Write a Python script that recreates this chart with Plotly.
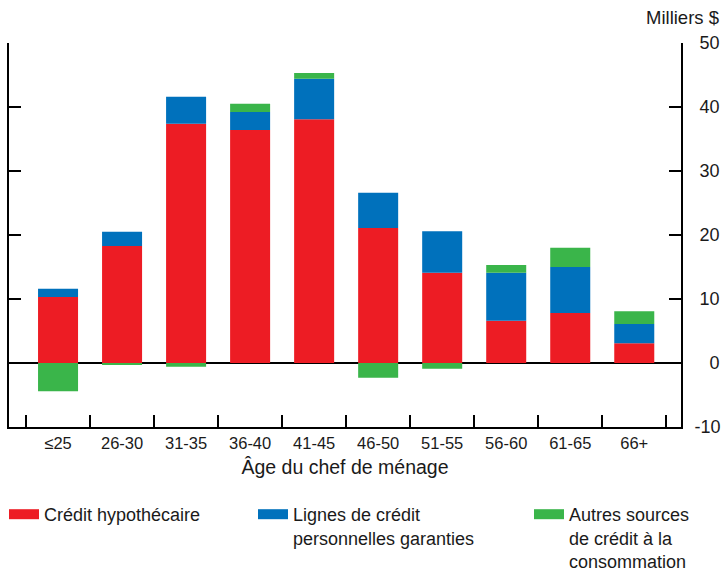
import plotly.graph_objects as go

categories = ["≤25", "26-30", "31-35", "36-40", "41-45", "46-50", "51-55", "56-60", "61-65", "66+"]
mortgage = [10.3, 18.3, 37.4, 36.4, 38.1, 21.1, 14.1, 6.6, 7.8, 3.1]
heloc = [1.3, 2.2, 4.2, 2.8, 6.3, 5.5, 6.5, 7.5, 7.2, 3.0]
other = [-4.4, -0.2, -0.6, 1.3, 0.9, -2.3, -0.9, 1.2, 3.0, 2.0]

y_tickvals = [-10, 0, 10, 20, 30, 40, 50]
# padded with figure/punctuation spaces so labels line up on the right like the original
y_ticktext = ["-10", "\u2007\u20080", "\u200810", "\u200820", "\u200830", "\u200840", "\u200850"]

names = ["Crédit hypothécaire", "Lignes de crédit<br>personnelles garanties",
         "Autres sources<br>de crédit à la<br>consommation"]
colors = ["#ED1C24", "#0071BC", "#3AB54A"]
series = [mortgage, heloc, other]
legend_ids = ["legend", "legend2", "legend3"]

W, H = 722, 573
PL, PT, PR, PB = 9, 43, 681, 427
ML, MT, MR, MB = PL, PT, W - PR, H - PB
PW, PH = PR - PL, PB - PT
legend_x_win = [4, 253, 529]
legend_top_win = 496

FONT = "Liberation Sans"
TXT = "#1a1a1a"


def px_x(x):
    return (x - PL) / PW


def px_y(y):
    return (PB - y) / PH


fig = go.Figure()
for vals, col in zip(series, colors):
    fig.add_trace(go.Bar(x=categories, y=vals, marker=dict(color=col, line=dict(width=0)),
                         width=0.625, showlegend=False, hoverinfo="x+y"))
# legend entries drawn as wide swatches
for name, col, lid in zip(names, colors, legend_ids):
    fig.add_trace(go.Scatter(x=[categories[0]], y=[None], mode="lines", name=name,
                             line=dict(color=col, width=13), legend=lid))

leg_common = dict(xref="paper", yref="paper", xanchor="left", yanchor="top",
                  y=px_y(legend_top_win), bgcolor="rgba(0,0,0,0)", borderwidth=0,
                  valign="top", font=dict(family=FONT, size=18, color=TXT), itemclick=False)
layout_legends = {}
for lid, wx in zip(legend_ids, legend_x_win):
    layout_legends[lid] = dict(x=px_x(wx), **leg_common)

fig.update_layout(
    width=W, height=H,
    margin=dict(l=ML, r=MR, t=MT, b=MB, autoexpand=False),
    paper_bgcolor="white", plot_bgcolor="white",
    font=dict(family=FONT, size=17, color=TXT),
    barmode="relative",
    showlegend=True,
    xaxis=dict(type="category", range=[-0.766, 9.73], tickson="boundaries",
               ticks="inside", ticklen=12, tickwidth=2, tickcolor="black",
               showline=True, linecolor="black", linewidth=2, showgrid=False,
               zeroline=False, mirror=False, tickangle=0, automargin=False,
               tickfont=dict(family=FONT, size=16.5, color=TXT),
               title=dict(text="Âge du chef de ménage", standoff=10,
                          font=dict(family=FONT, size=19.5, color=TXT))),
    yaxis=dict(range=[-10, 50], tickvals=y_tickvals, ticktext=y_ticktext, side="right",
               ticks="inside", ticklen=12, tickwidth=2, tickcolor="black",
               showline=True, linecolor="black", linewidth=2, mirror="ticks",
               showgrid=False, zeroline=True, zerolinecolor="black", zerolinewidth=2,
               ticklabelstandoff=8, automargin=False,
               tickfont=dict(family=FONT, size=18, color=TXT)),
    annotations=[dict(text="Milliers $", xref="paper", yref="paper",
                      x=px_x(721), y=px_y(17), xanchor="right", yanchor="middle",
                      showarrow=False, font=dict(family=FONT, size=18.5, color=TXT))],
    **layout_legends,
)

fig.write_html("out.html", config={"displayModeBar": False},
               post_script="document.body.style.margin='0';document.body.style.overflow='hidden';")
